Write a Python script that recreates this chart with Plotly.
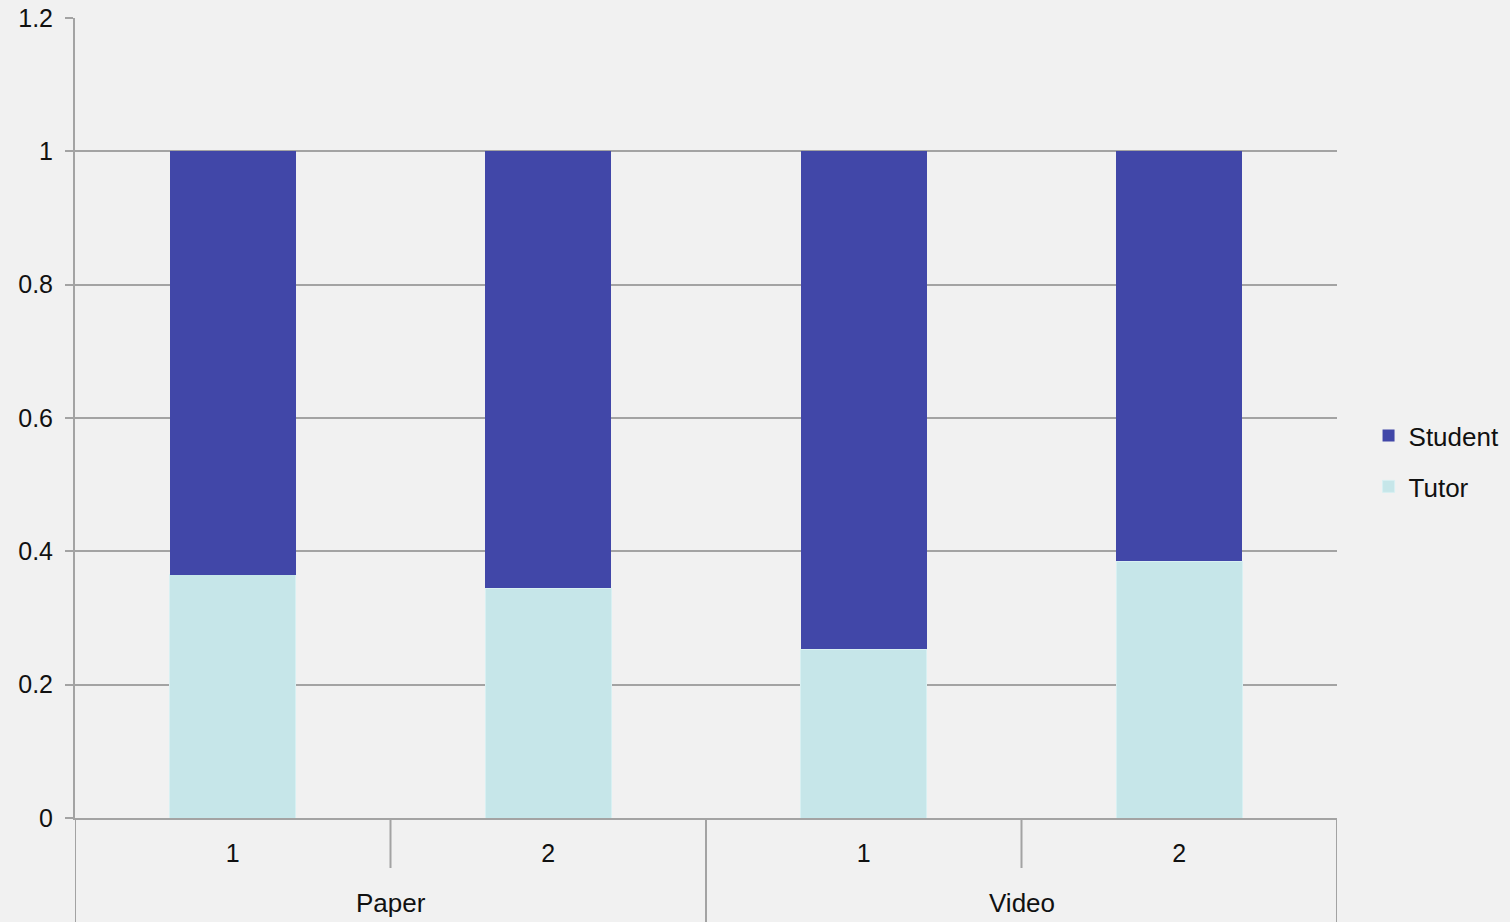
import plotly.graph_objects as go

# Session groups and session numbers
groups = ["Paper", "Video"]
sessions = ["1", "2", "1", "2"]

# Share of talk per speaker (each bar sums to 1)
tutor = [0.365, 0.345, 0.253, 0.385]
student = [0.635, 0.655, 0.747, 0.615]

positions = list(range(len(sessions)))

STUDENT_COLOR = "#4147A8"
TUTOR_COLOR = "#C6E6E9"
GRID = "#A3A3A3"
BG = "#F1F1F1"
FONT = "Liberation Sans, Arial, sans-serif"

fig = go.Figure()
fig.add_trace(go.Bar(
    x=positions, y=tutor, name="Tutor", legendgroup="tutor", legendrank=2,
    marker=dict(color=TUTOR_COLOR, line=dict(color="#D8F0F2", width=1)),
    width=0.4,
))
fig.add_trace(go.Bar(
    x=positions, y=student, name="Student", legendgroup="student", legendrank=1,
    marker=dict(color=STUDENT_COLOR, line=dict(width=0)),
    width=0.4,
))

# Separators below the axis: short ones between sessions, long ones between groups
shapes = []
for xv in [0.5, 2.5]:
    shapes.append(dict(type="line", xref="x", yref="paper", x0=xv, x1=xv,
                       y0=0, y1=-0.0625, line=dict(color=GRID, width=2)))
for xv in [-0.5, 1.5, 3.5]:
    shapes.append(dict(type="line", xref="x", yref="paper", x0=xv, x1=xv,
                       y0=0, y1=-0.14, line=dict(color=GRID, width=2)))

annotations = []
for i, g in enumerate(groups):
    annotations.append(dict(x=2 * i + 0.5, xref="x", y=-0.106, yref="paper",
                            text=g, showarrow=False, yanchor="middle",
                            font=dict(size=26, color="#111111", family=FONT)))

fig.update_layout(
    width=1510, height=922,
    margin=dict(l=75, r=173, t=18, b=104, autoexpand=False),
    barmode="stack",
    paper_bgcolor=BG, plot_bgcolor=BG,
    font=dict(family=FONT, size=25, color="#111111"),
    showlegend=True,
    legend=dict(
        traceorder="grouped", tracegroupgap=14,
        x=1.025, xanchor="left", y=0.446, yanchor="middle",
        bgcolor="rgba(0,0,0,0)", font=dict(size=26),
        itemwidth=30,
    ),
    xaxis=dict(
        tickmode="array", tickvals=positions, ticktext=sessions,
        range=[-0.5, 3.5], showgrid=False, zeroline=False,
        showline=True, linecolor=GRID, linewidth=2,
        ticks="", ticklabelstandoff=12, automargin=False,
        tickfont=dict(size=25),
    ),
    yaxis=dict(
        range=[0, 1.2], tickvals=[0, 0.2, 0.4, 0.6, 0.8, 1, 1.2],
        ticktext=["0", "0.2", "0.4", "0.6", "0.8", "1", "1.2"],
        showgrid=True, gridcolor=GRID, gridwidth=1.5,
        zeroline=False, showline=True, linecolor=GRID, linewidth=2,
        ticks="outside", ticklen=8, tickcolor=GRID, tickwidth=2,
        ticklabelstandoff=7, automargin=False, tickfont=dict(size=25),
    ),
    shapes=shapes,
    annotations=annotations,
    bargap=0.6,
)

fig.write_html("out.html")
